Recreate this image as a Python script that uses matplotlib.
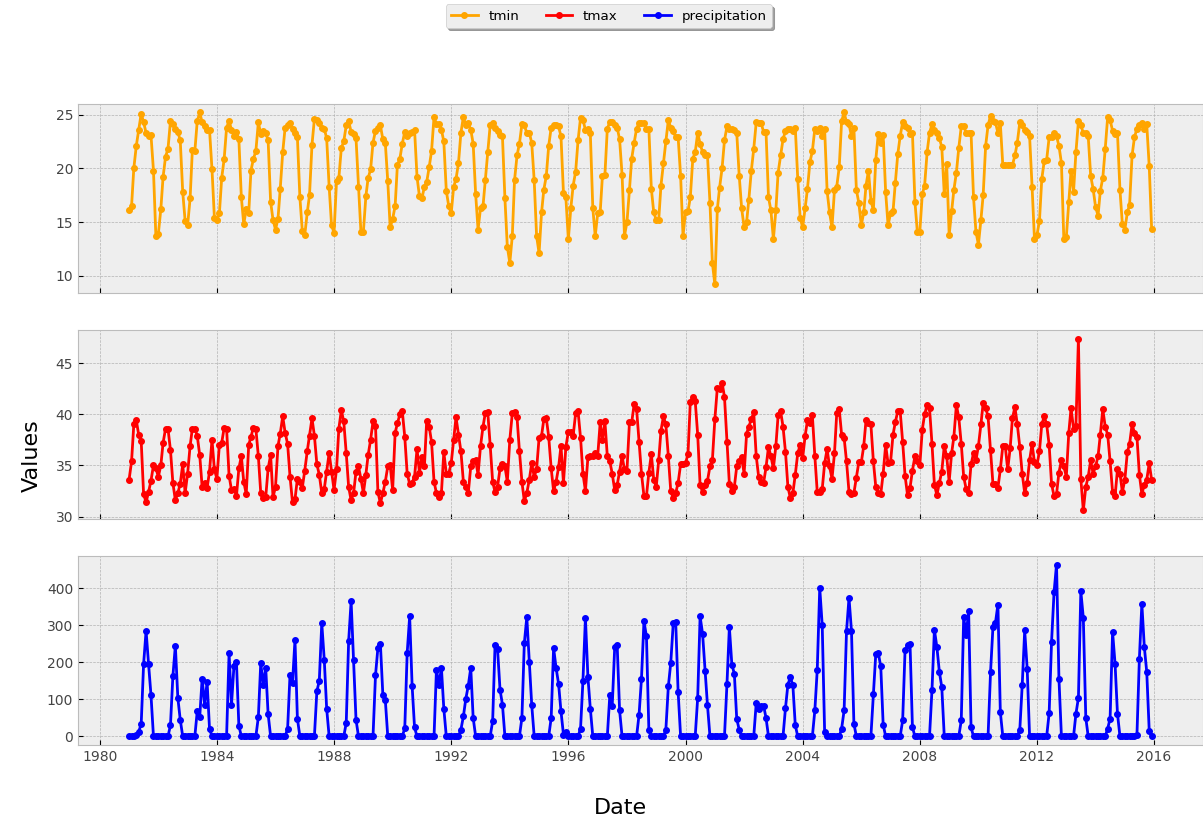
import matplotlib
matplotlib.use('Agg')
import matplotlib.pyplot as plt
import matplotlib.dates as mdates
import pandas as pd

plt.style.use('bmh')

# Monthly dates, Jan 1981 - Dec 2015
dates = pd.date_range('1981-01-01', periods=420, freq='MS')

# one row per year (Jan..Dec)
tmin = [
    16.1, 16.5, 20.0, 22.1, 23.6, 25.1, 24.3, 23.3, 23.0, 23.1, 19.8, 13.7,  # 1981
    13.9, 16.2, 19.2, 21.1, 21.8, 24.4, 24.1, 23.7, 23.4, 22.6, 17.8, 15.1,  # 1982
    14.7, 17.2, 21.7, 21.6, 24.4, 25.2, 24.3, 23.9, 23.6, 23.6, 19.9, 15.4,  # 1983
    15.2, 15.8, 19.1, 20.9, 23.8, 24.4, 23.6, 23.0, 23.4, 22.7, 17.3, 14.8,  # 1984
    16.2, 15.8, 19.8, 20.9, 21.6, 24.3, 23.2, 23.5, 23.3, 22.6, 16.9, 15.2,  # 1985
    14.3, 15.3, 18.1, 21.5, 23.8, 24.0, 24.2, 23.7, 23.3, 22.9, 17.3, 14.2,  # 1986
    13.8, 15.9, 17.5, 22.2, 24.6, 24.5, 24.2, 23.8, 23.7, 22.8, 18.3, 14.7,  # 1987
    14.0, 18.8, 19.1, 21.9, 22.5, 24.0, 24.4, 23.4, 23.2, 22.8, 18.3, 14.1,  # 1988
    14.1, 17.4, 19.1, 19.9, 22.4, 23.5, 23.8, 24.0, 22.7, 22.4, 18.8, 14.5,  # 1989
    15.3, 16.5, 20.3, 20.9, 22.3, 23.4, 23.0, 23.3, 23.4, 23.6, 19.2, 17.4,  # 1990
    17.2, 18.3, 18.7, 20.1, 21.6, 24.8, 24.1, 24.1, 23.6, 22.5, 17.9, 16.5,  # 1991
    15.8, 18.3, 19.0, 20.5, 23.3, 24.8, 24.0, 24.2, 23.6, 22.3, 17.6, 14.3,  # 1992
    16.3, 16.5, 18.9, 21.5, 24.0, 24.2, 23.8, 23.5, 23.1, 23.0, 17.2, 12.7,  # 1993
    11.2, 13.7, 18.9, 21.2, 22.3, 24.1, 24.0, 23.3, 23.3, 22.4, 18.9, 13.7,  # 1994
    12.1, 15.9, 18.0, 19.3, 22.1, 23.8, 24.0, 24.0, 23.9, 23.0, 17.7, 17.3,  # 1995
    13.4, 16.3, 18.4, 19.7, 22.6, 24.7, 24.5, 23.6, 23.7, 23.3, 16.3, 13.7,  # 1996
    15.8, 15.9, 19.3, 19.4, 23.7, 24.3, 24.3, 24.0, 23.8, 22.7, 19.4, 13.7,  # 1997
    15.0, 18.0, 20.9, 22.4, 23.7, 24.2, 24.2, 24.2, 23.7, 23.7, 18.1, 15.9,  # 1998
    15.2, 15.2, 18.4, 20.5, 22.5, 24.5, 23.8, 23.5, 22.9, 22.9, 19.3, 13.7,  # 1999
    15.9, 16.0, 17.3, 20.9, 21.5, 23.3, 22.3, 21.5, 21.2, 21.2, 16.8, 11.2,  # 2000
    9.2, 16.2, 18.2, 20.0, 22.6, 23.9, 23.7, 23.7, 23.6, 23.3, 19.3, 16.3,   # 2001
    14.5, 15.0, 17.1, 19.8, 21.8, 24.3, 24.2, 24.2, 23.4, 23.4, 17.3, 16.1,  # 2002
    13.4, 16.1, 19.6, 21.2, 22.7, 23.5, 23.7, 23.7, 23.5, 23.8, 19.0, 15.4,  # 2003
    14.5, 16.3, 18.1, 20.6, 21.6, 23.7, 23.5, 23.8, 23.0, 23.7, 17.9, 15.9,  # 2004
    14.5, 18.0, 18.3, 20.1, 24.4, 25.2, 24.3, 24.1, 23.0, 23.8, 18.0, 16.8,  # 2005
    14.7, 15.9, 18.4, 19.8, 17.0, 16.1, 20.8, 23.2, 22.4, 23.1, 17.8, 14.7,  # 2006
    15.8, 16.0, 18.6, 21.3, 23.0, 24.3, 23.9, 23.8, 23.2, 23.3, 16.9, 14.1,  # 2007
    14.1, 17.6, 18.4, 21.5, 23.3, 24.1, 23.6, 23.3, 22.8, 22.0, 17.6, 20.4,  # 2008
    13.8, 16.0, 18.0, 19.6, 21.9, 23.9, 23.9, 23.3, 23.3, 23.3, 17.3, 14.1,  # 2009
    12.9, 15.2, 17.5, 22.1, 24.0, 24.9, 24.4, 24.3, 23.3, 24.2, 20.3, 20.3,  # 2010
    20.3, 20.3, 20.3, 21.2, 22.4, 24.3, 24.0, 23.6, 23.4, 23.0, 18.3, 13.4,  # 2011
    13.8, 15.1, 19.0, 20.7, 20.8, 22.9, 22.9, 23.3, 23.0, 22.1, 20.5, 13.4,  # 2012
    13.6, 16.9, 19.8, 17.8, 21.5, 24.4, 24.0, 23.3, 23.3, 23.0, 19.3, 18.1,  # 2013
    16.4, 15.6, 17.9, 19.1, 21.8, 24.8, 24.5, 23.5, 23.2, 23.3, 18.0, 14.8,  # 2014
    14.3, 15.9, 16.6, 21.2, 22.9, 23.7, 24.0, 24.2, 23.7, 24.1, 20.2, 14.4,  # 2015
]

tmax = [
    33.6, 35.4, 39.0, 39.4, 38.0, 37.4, 32.2, 31.4, 32.4, 33.5, 35.0, 34.7,  # 1981
    33.9, 35.0, 37.2, 38.6, 38.6, 36.5, 33.3, 31.6, 32.3, 33.2, 35.1, 32.3,  # 1982
    34.2, 36.9, 38.6, 38.6, 37.9, 36.0, 32.9, 33.3, 32.8, 34.4, 37.5, 34.6,  # 1983
    33.7, 37.0, 37.2, 38.7, 38.6, 34.0, 32.6, 32.7, 32.0, 34.7, 35.9, 33.4,  # 1984
    32.2, 37.0, 37.8, 38.7, 38.6, 35.9, 32.3, 31.8, 31.9, 34.7, 36.0, 31.9,  # 1985
    32.9, 36.9, 38.1, 39.8, 38.2, 37.1, 33.9, 31.4, 31.7, 33.7, 33.4, 32.8,  # 1986
    34.5, 36.4, 37.9, 39.6, 37.9, 35.1, 34.1, 32.3, 32.7, 34.4, 36.2, 34.4,  # 1987
    32.6, 34.6, 38.6, 40.4, 39.3, 36.2, 32.9, 31.6, 32.3, 34.4, 34.9, 33.7,  # 1988
    32.3, 34.1, 36.0, 37.5, 39.3, 38.9, 32.4, 31.3, 32.3, 33.4, 34.9, 35.0,  # 1989
    32.6, 38.2, 39.1, 40.0, 40.3, 37.8, 34.2, 33.2, 33.3, 33.9, 36.6, 34.3,  # 1990
    35.8, 34.9, 39.3, 38.8, 37.3, 33.4, 32.3, 31.9, 32.3, 36.3, 34.2, 34.2,  # 1991
    35.2, 37.5, 39.7, 38.0, 36.4, 33.4, 32.9, 32.3, 34.9, 35.4, 35.5, 34.1,  # 1992
    36.9, 38.8, 40.1, 40.2, 37.0, 33.4, 32.4, 32.9, 34.7, 35.1, 34.9, 33.4,  # 1993
    37.5, 40.1, 40.2, 39.7, 36.4, 33.4, 31.5, 32.3, 33.6, 35.2, 33.9, 34.6,  # 1994
    37.7, 37.9, 39.5, 39.6, 37.8, 34.7, 32.5, 33.4, 34.8, 36.9, 33.3, 36.8,  # 1995
    38.3, 38.3, 37.9, 40.1, 40.3, 37.7, 34.2, 32.5, 35.8, 35.9, 35.9, 36.2,  # 1996
    35.9, 39.2, 37.5, 39.3, 35.9, 35.4, 34.2, 32.6, 33.1, 34.4, 35.9, 34.6,  # 1997
    34.5, 39.2, 39.2, 41.0, 40.5, 37.3, 34.2, 32.0, 32.0, 34.3, 36.1, 33.6,  # 1998
    32.9, 35.5, 38.4, 39.8, 39.0, 35.9, 32.5, 31.8, 32.3, 33.3, 35.1, 35.1,  # 1999
    35.2, 36.1, 41.2, 41.7, 41.3, 38.0, 33.1, 32.4, 33.1, 33.5, 34.9, 35.5,  # 2000
    39.5, 42.6, 42.5, 43.1, 41.7, 37.3, 33.2, 32.5, 32.9, 34.9, 35.4, 35.8,  # 2001
    34.2, 38.1, 38.8, 39.5, 40.2, 35.9, 33.9, 33.4, 33.3, 34.8, 36.8, 35.9,  # 2002
    34.7, 36.9, 39.9, 40.3, 38.8, 36.3, 32.9, 31.8, 32.3, 34.1, 36.2, 37.0,  # 2003
    35.7, 37.9, 39.4, 39.1, 39.9, 35.9, 32.4, 32.4, 32.7, 35.2, 36.6, 34.9,  # 2004
    33.7, 36.2, 40.1, 40.5, 38.0, 37.7, 35.4, 32.4, 32.2, 32.3, 33.8, 35.3,  # 2005
    35.3, 36.9, 39.4, 39.1, 39.0, 35.4, 32.9, 32.3, 32.2, 34.2, 37.0, 35.2,  # 2006
    35.3, 38.0, 39.2, 40.3, 40.3, 37.3, 34.0, 32.1, 32.8, 34.5, 35.9, 35.4,  # 2007
    35.0, 38.5, 40.0, 40.9, 40.6, 37.1, 33.1, 32.1, 33.3, 34.4, 36.9, 35.9,  # 2008
    33.4, 36.2, 37.8, 40.9, 39.7, 37.1, 33.9, 32.7, 32.3, 35.1, 36.2, 35.5,  # 2009
    36.9, 39.0, 41.1, 40.6, 39.8, 36.5, 33.2, 33.2, 32.8, 34.6, 36.9, 36.9,  # 2010
    34.6, 36.7, 39.6, 40.7, 39.0, 36.8, 34.2, 32.3, 33.3, 35.5, 37.1, 35.3,  # 2011
    35.0, 36.4, 39.0, 39.8, 39.0, 37.0, 33.2, 32.0, 32.2, 34.3, 35.5, 34.9,  # 2012
    33.9, 38.2, 40.6, 38.6, 38.9, 47.4, 33.7, 30.6, 32.9, 33.9, 35.5, 34.2,  # 2013
    34.9, 35.9, 38.0, 40.5, 38.8, 38.0, 35.4, 32.4, 32.0, 34.6, 34.2, 32.4,  # 2014
    33.6, 36.3, 37.1, 39.0, 38.2, 37.8, 34.1, 32.2, 33.1, 33.6, 35.2, 33.6,  # 2015
]

precipitation = [
    0, 0, 0, 5, 13, 33, 195, 285, 195, 112, 0, 0,      # 1981
    0, 0, 0, 0, 0, 30, 162, 245, 104, 45, 0, 0,        # 1982
    0, 0, 0, 0, 68, 52, 156, 86, 147, 21, 0, 0,        # 1983
    0, 0, 0, 0, 0, 225, 84, 191, 201, 29, 0, 0,        # 1984
    0, 0, 0, 0, 0, 52, 198, 140, 185, 60, 0, 0,        # 1985
    0, 0, 0, 0, 0, 21, 167, 144, 261, 48, 0, 0,        # 1986
    0, 0, 0, 0, 0, 122, 150, 306, 207, 75, 0, 0,       # 1987
    0, 0, 0, 0, 0, 36, 257, 365, 205, 45, 0, 0,        # 1988
    0, 0, 0, 0, 0, 165, 239, 250, 111, 99, 0, 0,       # 1989
    0, 0, 0, 0, 0, 22, 225, 324, 135, 24, 0, 0,        # 1990
    0, 0, 0, 0, 0, 0, 180, 140, 185, 75, 0, 0,         # 1991
    0, 0, 0, 0, 18, 54, 101, 137, 185, 50, 0, 0,       # 1992
    0, 0, 0, 0, 0, 41, 248, 236, 126, 86, 0, 0,        # 1993
    0, 0, 0, 0, 0, 50, 252, 322, 201, 86, 0, 0,        # 1994
    0, 0, 0, 0, 0, 50, 239, 185, 142, 68, 5, 12,       # 1995
    0, 0, 0, 0, 0, 21, 150, 320, 160, 75, 0, 0,        # 1996
    0, 0, 0, 0, 0, 111, 81, 240, 246, 70, 0, 0,        # 1997
    0, 0, 0, 0, 0, 59, 156, 311, 270, 18, 0, 0,        # 1998
    0, 0, 0, 0, 18, 135, 198, 305, 308, 120, 0, 0,     # 1999
    0, 0, 0, 0, 0, 104, 324, 277, 177, 84, 0, 0,       # 2000
    0, 0, 0, 0, 0, 141, 295, 194, 169, 47, 18, 0,      # 2001
    0, 0, 0, 0, 0, 90, 74, 83, 83, 50, 0, 0,           # 2002
    0, 0, 0, 0, 0, 77, 140, 160, 138, 30, 0, 0,        # 2003
    0, 0, 0, 0, 0, 70, 180, 401, 300, 12, 0, 0,        # 2004
    0, 0, 0, 0, 21, 70, 284, 374, 284, 34, 0, 0,       # 2005
    0, 0, 0, 0, 0, 115, 223, 225, 189, 32, 0, 0,       # 2006
    0, 0, 0, 0, 0, 43, 232, 246, 250, 25, 0, 0,        # 2007
    0, 0, 0, 0, 0, 126, 288, 241, 174, 133, 0, 0,      # 2008
    0, 0, 0, 0, 0, 43, 322, 275, 338, 24, 0, 0,        # 2009
    0, 0, 0, 0, 0, 173, 295, 306, 356, 66, 0, 0,       # 2010
    0, 0, 0, 0, 0, 18, 138, 286, 183, 0, 0, 0,         # 2011
    0, 0, 0, 0, 0, 63, 255, 389, 464, 156, 0, 0,       # 2012
    0, 0, 0, 0, 61, 104, 392, 320, 50, 0, 0, 0,        # 2013
    0, 0, 0, 0, 0, 21, 48, 282, 196, 61, 0, 0,         # 2014
    0, 0, 0, 0, 0, 5, 209, 358, 241, 174, 15, 0,       # 2015
]

series_names = ['tmin', 'tmax', 'precipitation']
series_colors = ['orange', 'red', 'blue']
series_values = [tmin, tmax, precipitation]

fig, axes = plt.subplots(3, 1, sharex=True, figsize=(12.03, 8.22), dpi=100)
positions = [0.6436, 0.3686, 0.0937]
lines = []
for ax, bottom, name, color, vals in zip(axes, positions, series_names,
                                         series_colors, series_values):
    ax.set_position([0.0648, bottom, 0.935, 0.23])
    ln, = ax.plot(dates, vals, color=color, marker='o', markersize=4,
                  linewidth=2, label=name)
    lines.append(ln)
    ax.tick_params(labelcolor='#444444')

axes[-1].xaxis.set_major_locator(mdates.YearLocator(4))
axes[-1].xaxis.set_major_formatter(mdates.DateFormatter('%Y'))

fig.legend(handles=lines, loc='upper center', bbox_to_anchor=(0.506, 1.003),
           ncol=3, shadow=True, fancybox=True, fontsize=9.6)
fig.supxlabel('Date', x=0.516, y=0.005, fontsize=16)
fig.supylabel('Values', x=0.018, y=0.446, fontsize=16)

fig.savefig('out.png', dpi=100)
